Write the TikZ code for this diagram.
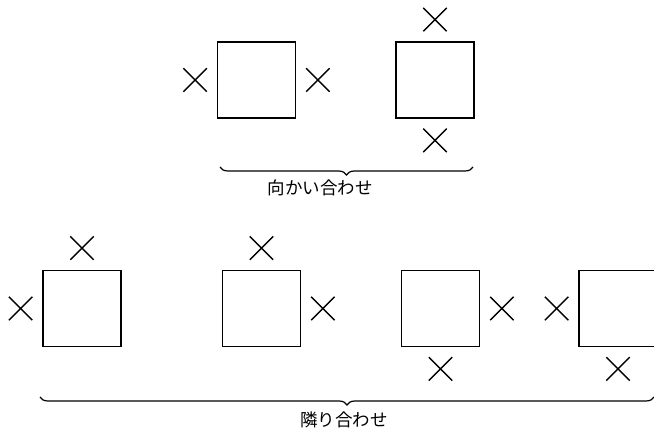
\documentclass[tikz,border=0pt]{standalone}
\usepackage{fontspec}
\newfontfamily\jpfont{Noto Sans CJK JP}
\usetikzlibrary{positioning,shapes.misc,decorations.pathreplacing}
\tikzset{
  seat/.style={draw, line width=1.4pt, minimum width=78pt, minimum height=76pt, inner sep=0pt},
  crossmark/.style={cross out, draw, line width=1.4pt, minimum size=22pt, inner sep=0pt},
  groupbrace/.style={decorate, decoration={brace, mirror, amplitude=8pt}, line width=1.2pt},
  grouplabel/.style={font=\jpfont\fontsize{17.5}{20}\selectfont}
}
\begin{document}
\begin{tikzpicture}[x=1pt, y=-1pt, node distance=10pt]
    \useasboundingbox (0,0) rectangle (654,435);
    % --- top row: facing pairs ---
    \node[seat] (a1) at (256.5,80) {};
    \node[crossmark, left=of a1] (a1l) {};
    \node[crossmark, right=of a1] (a1r) {};
    \node[seat] (a2) at (435,80) {};
    \node[crossmark, above=of a2] (a2t) {};
    \node[crossmark, below=of a2] (a2b) {};
    % --- brace + label ---
    \coordinate (bra) at (220,167);
    \coordinate (brb) at (473,167);
    \draw[groupbrace] (bra) -- (brb);
    \node[grouplabel] (lbla) at (320,188) {向かい合わせ};
    % --- bottom row: adjacent pairs ---
    \node[seat] (b1) at (82,308.5) {};
    \node[crossmark, above=of b1] (b1t) {};
    \node[crossmark, left=of b1] (b1l) {};
    \node[seat] (b2) at (261.5,308.5) {};
    \node[crossmark, above=of b2] (b2t) {};
    \node[crossmark, right=of b2] (b2r) {};
    \node[seat] (b3) at (440.5,308.5) {};
    \node[crossmark, right=of b3] (b3r) {};
    \node[crossmark, below=of b3] (b3b) {};
    \node[seat] (b4) at (618,308.5) {};
    \node[crossmark, left=of b4] (b4l) {};
    \node[crossmark, below=of b4] (b4b) {};
    % --- brace + label ---
    \coordinate (brc) at (40,397);
    \coordinate (brd) at (654,397);
    \draw[groupbrace] (brc) -- (brd);
    \node[grouplabel] (lblb) at (344,420) {隣り合わせ};
\end{tikzpicture}
\end{document}
